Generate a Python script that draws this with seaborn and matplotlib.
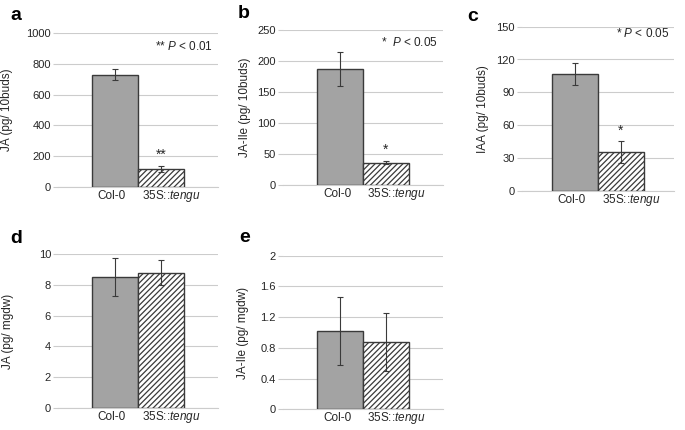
import numpy as np
import pandas as pd
import seaborn as sns
import matplotlib.pyplot as plt
from matplotlib.transforms import ScaledTranslation

# ---- data ----
genotypes = ["Col-0", "35S::tengu"]
tick_names = ["Col-0", r"35S::$\mathit{tengu}$"]

ja_buds = [730, 115]
ja_buds_err = [37, 20]

jaile_buds = [187, 36]
jaile_buds_err = [28, 2]

iaa_buds = [107, 35]
iaa_buds_err = [10, 10]

ja_dw = [8.5, 8.8]
ja_dw_err = [1.23, 0.8]

jaile_dw = [1.02, 0.88]
jaile_dw_err = [0.44, 0.38]

sns.set_style("white")
plt.rcParams["font.family"] = ["Liberation Sans", "DejaVu Sans"]
plt.rcParams["mathtext.fontset"] = "custom"
plt.rcParams["mathtext.it"] = "Liberation Sans:italic"
plt.rcParams["mathtext.rm"] = "Liberation Sans"
plt.rcParams["hatch.linewidth"] = 0.9

TXT = "#262626"
GRID = "#cccccc"

fig = plt.figure(figsize=(6.85, 4.30), dpi=100)
W, H = 685.0, 430.0


def add_ax(l, r, top, bot):
    return fig.add_axes([l / W, 1 - bot / H, (r - l) / W, (bot - top) / H])


panels = [
    # letter, (l, r, top, bot), values, err, ylabel, yticks, ticklabels, star, ptext, p y, letter pos, ylabel x
    ("a", (58, 218, 33, 187), ja_buds, ja_buds_err, "JA (pg/ 10buds)",
     np.arange(0, 1001, 200), None, "**", r"** $\mathit{P}$ < 0.01", 0.87, (10, 20), 13),
    ("b", (283, 443, 30, 185), jaile_buds, jaile_buds_err, "JA-Ile (pg/ 10buds)",
     np.arange(0, 251, 50), None, "*", r"*  $\mathit{P}$ < 0.05", 0.88, (238, 18), 251),
    ("c", (522, 674, 26.7, 190.7), iaa_buds, iaa_buds_err, "IAA (pg/ 10buds)",
     np.arange(0, 151, 30), None, "*", r"* $\mathit{P}$ < 0.05", 0.92, (467, 21), 489),
    ("d", (58, 218, 254.3, 407.7), ja_dw, ja_dw_err, "JA (pg/ mgdw)",
     np.arange(0, 11, 2), None, None, None, None, (10, 243), 14),
    ("e", (283, 443, 255.7, 409.3), jaile_dw, jaile_dw_err, "JA-Ile (pg/ mgdw)",
     [0, 0.4, 0.8, 1.2, 1.6, 2], ["0", "0.4", "0.8", "1.2", "1.6", "2"], None, None, None, (239, 242), 249),
]

label_shift_px = [-3, 10]

for letter, box, vals, errs, ylab, yt, ytl, star, ptxt, py, lpos, ylx in panels:
    l, r, top, bot = box
    ax = add_ax(l, r, top, bot)
    df = pd.DataFrame({"genotype": genotypes, "value": vals})
    sns.barplot(data=df, x="genotype", y="value", hue="genotype",
                palette=["#a3a3a3", "white"], width=1.0, edgecolor="#3a3a3a",
                linewidth=1.0, errorbar=None, legend=False, ax=ax, zorder=3)
    ax.patches[1].set_hatch("//////")
    ax.errorbar(range(len(vals)), vals, yerr=errs, fmt="none", ecolor="#3a3a3a",
                elinewidth=0.8, capsize=2.2, capthick=0.8, zorder=4)

    span = (r - l) / 46.0
    ax.set_xlim(0.5 - span / 2, 0.5 + span / 2)
    ax.set_ylim(yt[0], yt[-1])
    ax.set_yticks(yt)
    if ytl is not None:
        ax.set_yticklabels(ytl)
    ax.set_xticks(range(len(genotypes)))
    ax.set_xticklabels([])
    # category labels drawn at the tick positions, baseline aligned,
    # nudged apart like the original
    for i, (name, dx) in enumerate(zip(tick_names, label_shift_px)):
        tr = ax.get_xaxis_transform() + ScaledTranslation(dx / 100, -12 / 100, fig.dpi_scale_trans)
        ax.text(i, 0, name, transform=tr, ha="center", va="baseline",
                fontsize=8.5, color=TXT)
    ax.yaxis.grid(True, color=GRID, linewidth=0.8, zorder=0)
    ax.set_axisbelow(True)
    for s in ["left", "right", "top"]:
        ax.spines[s].set_visible(False)
    ax.spines["bottom"].set_color(GRID)
    ax.spines["bottom"].set_linewidth(0.8)
    ax.tick_params(axis="y", length=3.5, width=0.8, color=GRID, labelsize=8,
                   labelcolor=TXT, pad=1.5, left=True)
    ax.tick_params(axis="x", length=0)
    ax.set_xlabel("")
    ax.set_ylabel(ylab, fontsize=8.5, color=TXT)
    ax.yaxis.set_label_coords((ylx - l) / (r - l), 0.5)

    if star:
        ax.annotate(star, xy=(1, vals[1] + errs[1]), xytext=(0, 3),
                    textcoords="offset points", ha="center", va="bottom",
                    fontsize=10, color=TXT)
    if ptxt:
        ax.text(0.97, py, ptxt, transform=ax.transAxes, ha="right",
                va="bottom", fontsize=8.5, color=TXT)

    fig.text(lpos[0] / W, 1 - lpos[1] / H, letter, fontsize=14,
             fontweight="bold", ha="left", va="baseline", color="black")

fig.savefig("out.png", dpi=100, facecolor="white")
